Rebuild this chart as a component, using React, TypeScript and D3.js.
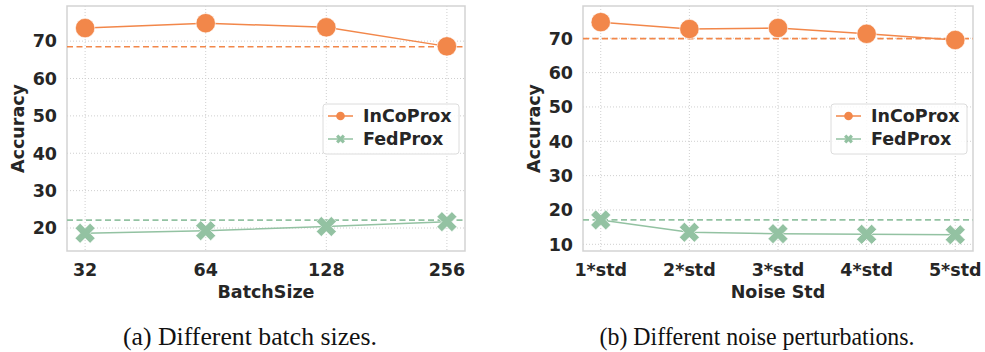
import { useEffect, useRef } from "react";
import * as d3 from "d3";

// panel (a)
const batchSizes = ["32", "64", "128", "256"];
const batchInco = [73.5, 74.8, 73.7, 68.6];
const batchFed = [18.6, 19.3, 20.4, 21.7];
const batchIncoBase = 68.5;
const batchFedBase = 22.1;
const batchTicks = [20, 30, 40, 50, 60, 70];

// panel (b)
const noiseLevels = ["1*std", "2*std", "3*std", "4*std", "5*std"];
const noiseInco = [74.7, 72.7, 73.0, 71.3, 69.5];
const noiseFed = [17.1, 13.5, 13.1, 12.9, 12.8];
const noiseIncoBase = 69.9;
const noiseFedBase = 17.1;
const noiseTicks = [10, 20, 30, 40, 50, 60, 70];

const ORANGE = "#f2874a";
const GREEN = "#93c2a2";
const TEXT = "#262626";
const FONT = "DejaVu Sans";
const FS = "17.5px";

const Panel = ({ svgRef, left, right, cats, inco, fed, incoBase, fedBase, ticks, yDomain, xLabel, caption, legendX }) => {
    useEffect(() => {
        if (!svgRef.current) return;
        const svg = d3.select(svgRef.current);
        const top = 6, bottom = 251;
        const g = svg.append("g");

        // 5% margin on each side, like matplotlib
        const m = (right - left) * 0.0455;
        const x = d3.scalePoint(cats, [left + m, right - m]);
        const y = d3.scaleLinear(yDomain, [bottom, top]);

        // grid
        g.selectAll(".gy").data(ticks).join("line")
            .attr("x1", left).attr("x2", right)
            .attr("y1", d => y(d)).attr("y2", d => y(d))
            .attr("stroke", "#cfcfcf").attr("stroke-width", 1).attr("stroke-dasharray", "1,2");
        g.selectAll(".gx").data(cats).join("line")
            .attr("x1", d => x(d)).attr("x2", d => x(d))
            .attr("y1", top).attr("y2", bottom)
            .attr("stroke", "#cfcfcf").attr("stroke-width", 1).attr("stroke-dasharray", "1,2");

        // frame
        g.append("rect").attr("x", left).attr("y", top)
            .attr("width", right - left).attr("height", bottom - top)
            .attr("fill", "none").attr("stroke", "#d3d3d3").attr("stroke-width", 1.5);

        // tick labels
        g.selectAll(".ty").data(ticks).join("text")
            .attr("x", left - 10).attr("y", d => y(d)).attr("dy", "0.36em")
            .attr("text-anchor", "end").text(d => d)
            .style("font-family", FONT).style("font-weight", "bold").style("font-size", FS).attr("fill", TEXT);
        g.selectAll(".tx").data(cats).join("text")
            .attr("x", d => x(d)).attr("y", 276)
            .attr("text-anchor", "middle").text(d => d)
            .style("font-family", FONT).style("font-weight", "bold").style("font-size", FS).attr("fill", TEXT);

        g.append("text").attr("x", (left + right) / 2).attr("y", 298)
            .attr("text-anchor", "middle").text(xLabel)
            .style("font-family", FONT).style("font-weight", "bold").style("font-size", FS).attr("fill", TEXT);
        g.append("text").attr("transform", `translate(${left - 49}, ${(top + bottom) / 2}) rotate(-90)`)
            .attr("text-anchor", "middle").attr("dy", "0.36em").text("Accuracy")
            .style("font-family", FONT).style("font-weight", "bold").style("font-size", FS).attr("fill", TEXT);

        // baselines
        [[incoBase, ORANGE], [fedBase, GREEN]].forEach(([v, c]) => {
            g.append("line").attr("x1", left).attr("x2", right)
                .attr("y1", y(v)).attr("y2", y(v))
                .attr("stroke", c).attr("stroke-width", 1.6).attr("stroke-dasharray", "6,3.5");
        });

        const line = d3.line().x((d, i) => x(cats[i])).y(d => y(d));
        g.append("path").datum(inco).attr("d", line).attr("fill", "none").attr("stroke", ORANGE).attr("stroke-width", 1.5);
        g.append("path").datum(fed).attr("d", line).attr("fill", "none").attr("stroke", GREEN).attr("stroke-width", 1.5);

        const xShape = d3.symbol(d3.symbolCross, 250);
        g.selectAll(".mf").data(fed).join("path")
            .attr("d", xShape)
            .attr("transform", (d, i) => `translate(${x(cats[i])}, ${y(d)}) rotate(45)`)
            .attr("fill", GREEN).attr("stroke", "white").attr("stroke-width", 0.6);
        g.selectAll(".mi").data(inco).join("circle")
            .attr("cx", (d, i) => x(cats[i])).attr("cy", d => y(d)).attr("r", 9.7)
            .attr("fill", ORANGE).attr("stroke", "white").attr("stroke-width", 0.6);

        // legend
        const lg = g.append("g").attr("transform", `translate(${legendX}, 104)`);
        lg.append("rect").attr("width", 136).attr("height", 50).attr("rx", 3)
            .attr("fill", "white").attr("fill-opacity", 0.85).attr("stroke", "#dcdcdc").attr("stroke-width", 1);
        const entries = [["InCoProx", ORANGE, 12], ["FedProx", GREEN, 35]];
        entries.forEach(([name, c, yy], idx) => {
            lg.append("line").attr("x1", 5).attr("x2", 30).attr("y1", yy).attr("y2", yy)
                .attr("stroke", c).attr("stroke-width", 1.5);
            if (idx === 0) {
                lg.append("circle").attr("cx", 17.5).attr("cy", yy).attr("r", 4.3).attr("fill", c);
            } else {
                lg.append("path").attr("d", d3.symbol(d3.symbolCross, 50))
                    .attr("transform", `translate(17.5, ${yy}) rotate(45)`).attr("fill", c);
            }
            lg.append("text").attr("x", 40).attr("y", yy).attr("dy", "0.36em").text(name)
                .style("font-family", FONT).style("font-weight", "bold").style("font-size", FS).attr("fill", TEXT);
        });

        // caption
        g.append("text").attr("x", caption.cx).attr("y", 345).attr("text-anchor", "middle")
            .attr("textLength", caption.w).attr("lengthAdjust", "spacingAndGlyphs")
            .text(caption.text)
            .style("font-family", "Liberation Serif").style("font-size", "25px").attr("fill", "#111");

        return () => { g.remove(); };
    }, []);
    return null;
};

export default function App() {
    const svgRef = useRef(null);
    return (
        <svg ref={svgRef} width={985} height={352}
            style={{ position: "absolute", left: 0, top: 0, background: "white" }}>
            <Panel svgRef={svgRef} left={67} right={465} cats={batchSizes} inco={batchInco} fed={batchFed}
                incoBase={batchIncoBase} fedBase={batchFedBase} ticks={batchTicks} yDomain={[13.85, 79.4]}
                xLabel="BatchSize" legendX={323}
                caption={{ text: "(a) Different batch sizes.", cx: 250, w: 254 }} />
            <Panel svgRef={svgRef} left={583} right={973} cats={noiseLevels} inco={noiseInco} fed={noiseFed}
                incoBase={noiseIncoBase} fedBase={noiseFedBase} ticks={noiseTicks} yDomain={[8.05, 79.4]}
                xLabel="Noise Std" legendX={831}
                caption={{ text: "(b) Different noise perturbations.", cx: 757, w: 315 }} />
        </svg>
    );
}
